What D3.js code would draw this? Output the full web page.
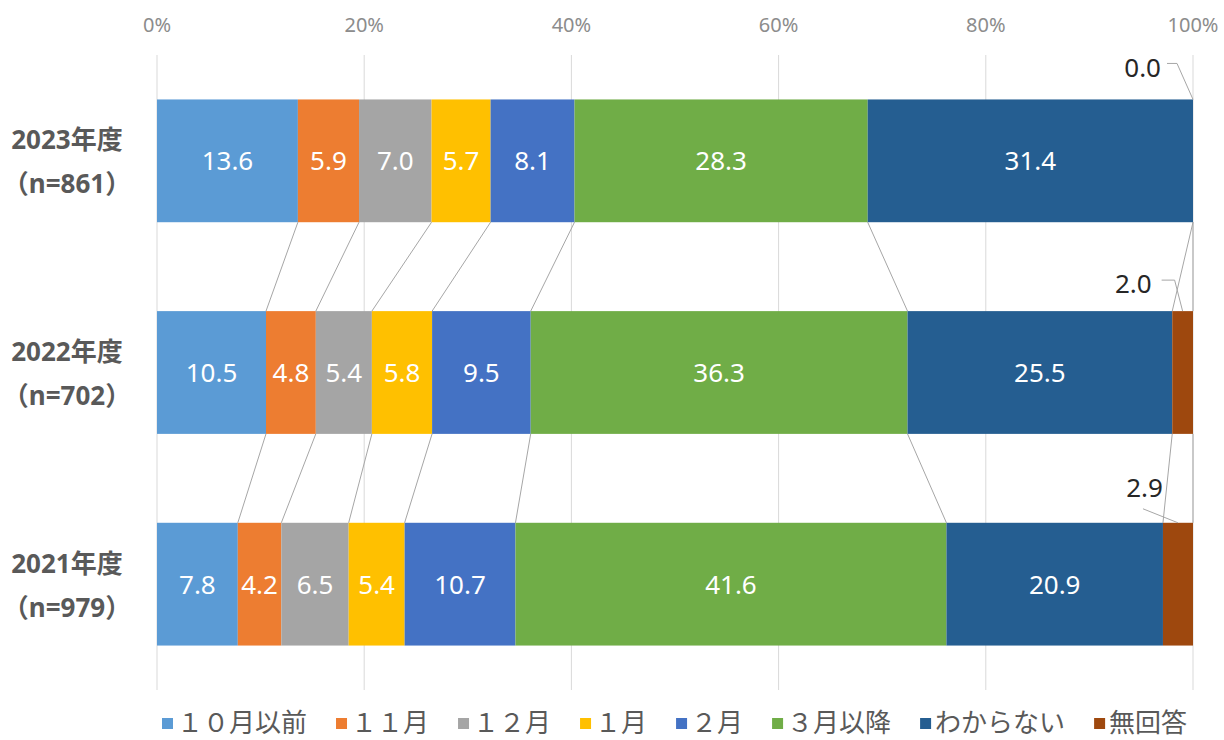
<!DOCTYPE html>
<html>
<head>
<meta charset="utf-8">
<script src="https://cdn.jsdelivr.net/npm/d3@7"></script>
<style>
  body { margin: 0; background: #fff; }
  svg text { font-family: "Noto Sans", "Noto Sans CJK JP", sans-serif; }
  .grid line { stroke: #d9d9d9; stroke-width: 1; }
  .series_line { stroke: #a6a6a6; stroke-width: 1; fill: none; }
  .leader { stroke: #a6a6a6; stroke-width: 1; fill: none; }
</style>
</head>
<body>
<div id="chart"></div>
<script>
var years = ["2023年度", "2022年度", "2021年度"];
var sampleSizes = ["（n=861）", "（n=702）", "（n=979）"];
var categories = ["１０月以前", "１１月", "１２月", "１月", "２月", "３月以降", "わからない", "無回答"];
var colors = ["#5B9BD5", "#ED7D31", "#A5A5A5", "#FFC000", "#4472C4", "#70AD47", "#255E91", "#9E480E"];
var values2023 = [13.6, 5.9, 7.0, 5.7, 8.1, 28.3, 31.4, 0.0];
var values2022 = [10.5, 4.8, 5.4, 5.8, 9.5, 36.3, 25.5, 2.0];
var values2021 = [7.8, 4.2, 6.5, 5.4, 10.7, 41.6, 20.9, 2.9];
var tickValues = [0, 0.2, 0.4, 0.6, 0.8, 1];

var rows = [values2023, values2022, values2021].map(function(v, i) {
    var r = {year: years[i]};
    categories.forEach(function(c, k) { r[c] = v[k]; });
    r.values = v;
    return r;
});

var outerWidth = 1224, outerHeight = 740;
var margin = {top: 55, right: 31, bottom: 50, left: 157};
var width = outerWidth - margin.left - margin.right;
var height = outerHeight - margin.top - margin.bottom;

var svg = d3.select("#chart").append("svg")
    .attr("width", outerWidth)
    .attr("height", outerHeight)
    .append("g")
    .attr("transform", "translate(" + margin.left + "," + margin.top + ")");

var xScale = d3.scaleLinear().domain([0, 1]).range([0, width]);
var yScale = d3.scaleBand().domain(years).range([0, height])
    .paddingInner(0.42).paddingOuter(0.21);

var stacked = d3.stack().keys(categories).offset(d3.stackOffsetExpand)(rows);

// gridlines
svg.append("g")
    .attr("class", "grid")
    .selectAll("line")
    .data(tickValues)
    .enter().append("line")
    .attr("x1", d => xScale(d)).attr("x2", d => xScale(d))
    .attr("y1", 0).attr("y2", height);

// tick labels on top
svg.append("g")
    .selectAll("text")
    .data(tickValues)
    .enter().append("text")
    .attr("x", d => xScale(d))
    .attr("y", -30)
    .attr("dy", "0.36em")
    .attr("text-anchor", "middle")
    .style("font-size", "20px")
    .style("fill", "#8c8c8c")
    .text(d3.format(".0%"));

// series lines between bars
var bw = yScale.bandwidth();
for (var i = 0; i < years.length - 1; i++) {
    stacked.forEach(function(s) {
        svg.append("line")
            .attr("class", "series_line")
            .attr("x1", xScale(s[i][1]))
            .attr("y1", yScale(years[i]) + bw)
            .attr("x2", xScale(s[i + 1][1]))
            .attr("y2", yScale(years[i + 1]));
    });
}

// bars
var layers = svg.selectAll(".layer")
    .data(stacked)
    .enter().append("g")
    .attr("class", "layer")
    .attr("fill", (d, k) => colors[k]);

layers.selectAll("rect")
    .data(d => d)
    .enter().append("rect")
    .attr("x", d => xScale(d[0]))
    .attr("y", d => yScale(d.data.year))
    .attr("width", d => xScale(d[1]) - xScale(d[0]))
    .attr("height", bw);

// inside labels
layers.each(function(s, k) {
    if (k === categories.length - 1) return;
    d3.select(this).selectAll("text")
        .data(s)
        .enter().append("text")
        .attr("x", d => (xScale(d[0]) + xScale(d[1])) / 2)
        .attr("y", d => yScale(d.data.year) + bw / 2)
        .attr("dy", "0.36em")
        .attr("text-anchor", "middle")
        .style("font-size", "26px")
        .style("fill", "#fff")
        .text(d => d.data.values[k].toFixed(1));
});

// outside labels for 無回答 with leader lines
var lastLayer = stacked[categories.length - 1];
var leaderOffsets = [
    {points: [[-16, -36], [-26, -36]], tx: -32, ty: -32},
    {points: [[-8, -31], [-21, -31]], tx: -31, ty: -27},
    {points: [[-35, -14]], tx: -15, ty: -35}
];
lastLayer.forEach(function(d, i) {
    var ax = d[1] - d[0] > 0 ? (xScale(d[0]) + xScale(d[1])) / 2 : xScale(d[1]);
    var ay = yScale(d.data.year);
    var o = leaderOffsets[i];
    var pts = [[ax, ay]].concat(o.points.map(p => [ax + p[0], ay + p[1]]));
    svg.append("path")
        .attr("class", "leader")
        .attr("d", d3.line()(pts));
    svg.append("text")
        .attr("x", ax + o.tx)
        .attr("y", ay + o.ty)
        .attr("dy", "0.36em")
        .attr("text-anchor", "end")
        .style("font-size", "26px")
        .style("fill", "#262626")
        .text(d.data.values[categories.length - 1].toFixed(1));
});

// y labels
years.forEach(function(y, i) {
    var cy = yScale(y) + bw / 2;
    svg.append("text")
        .attr("x", -90)
        .attr("y", cy - 21)
        .attr("dy", "0.36em")
        .attr("text-anchor", "middle")
        .style("font-size", "26px")
        .style("font-weight", "bold")
        .style("fill", "#595959")
        .text(y);
    svg.append("text")
        .attr("x", -90)
        .attr("y", cy + 23)
        .attr("dy", "0.36em")
        .attr("text-anchor", "middle")
        .style("font-size", "26px")
        .style("font-weight", "bold")
        .style("fill", "#595959")
        .text(sampleSizes[i]);
});

// legend
var legend = svg.append("g")
    .attr("transform", "translate(0," + (height + 33) + ")");
var lx = 5;
categories.forEach(function(c, k) {
    var g = legend.append("g").attr("transform", "translate(" + lx + ",0)");
    g.append("rect")
        .attr("x", 0).attr("y", -5)
        .attr("width", 11).attr("height", 11)
        .attr("fill", colors[k]);
    var t = g.append("text")
        .attr("x", 15)
        .attr("y", 0)
        .attr("dy", "0.36em")
        .style("font-size", "26px")
        .style("fill", "#595959")
        .text(c);
    lx += 15 + t.node().getComputedTextLength() + 29;
});
</script>
</body>
</html>
